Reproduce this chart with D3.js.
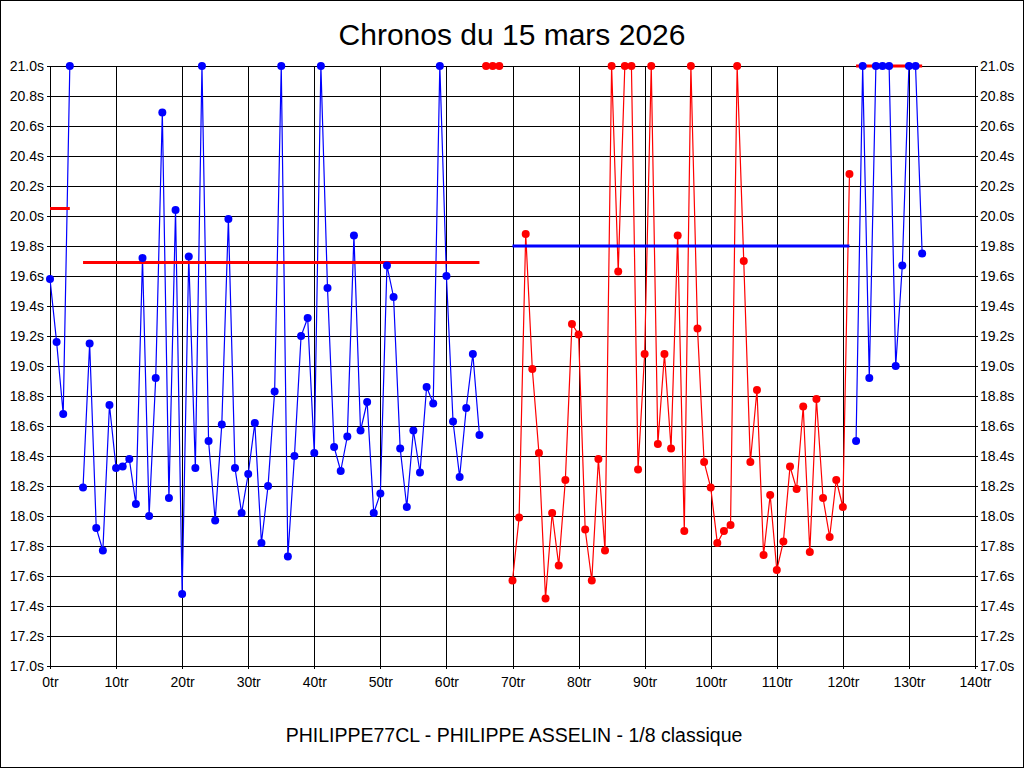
<!DOCTYPE html>
<html><head><meta charset="utf-8">
<script src="https://cdn.jsdelivr.net/npm/d3@7"></script>
<style>
html,body{margin:0;padding:0;background:#fff;}
svg{display:block;font-family:"Liberation Sans",Arial,sans-serif;}
</style></head>
<body><svg id="chart" width="1024" height="768"></svg>
<script>
// ---- data ----
const title = "Chronos du 15 mars 2026";
const footer = "PHILIPPE77CL - PHILIPPE ASSELIN - 1/8 classique";
const xTicks = [0,10,20,30,40,50,60,70,80,90,100,110,120,130,140];
const yTicks = [17.0,17.2,17.4,17.6,17.8,18.0,18.2,18.4,18.6,18.8,19.0,19.2,19.4,19.6,19.8,20.0,20.2,20.4,20.6,20.8,21.0];

const stintStart = [0, 5, 66, 70, 122];
const stintColor = ["#0000ff", "#0000ff", "#ff0000", "#ff0000", "#0000ff"];
const stint1 = [19.58, 19.16, 18.68, 21.0];
const stint2 = [18.19, 19.15, 17.92, 17.77, 18.74, 18.32, 18.33, 18.38, 18.08, 19.72,
                18.00, 18.92, 20.69, 18.12, 20.04, 17.48, 19.73, 18.32, 21.0, 18.50,
                17.97, 18.61, 19.98, 18.32, 18.02, 18.28, 18.62, 17.82, 18.20, 18.83,
                21.0, 17.73, 18.40, 19.20, 19.32, 18.42, 21.0, 19.52, 18.46, 18.30,
                18.53, 19.87, 18.57, 18.76, 18.02, 18.15, 19.67, 19.46, 18.45, 18.06,
                18.57, 18.29, 18.86, 18.75, 21.0, 19.60, 18.63, 18.26, 18.72, 19.08, 18.54];
const stint3 = [21.0, 21.0, 21.0];
const stint4 = [17.57, 17.99, 19.88, 18.98, 18.42, 17.45, 18.02, 17.67, 18.24, 19.28,
                19.21, 17.91, 17.57, 18.38, 17.77, 21.0, 19.63, 21.0, 21.0, 18.31,
                19.08, 21.0, 18.48, 19.08, 18.45, 19.87, 17.90, 21.0, 19.25, 18.36,
                18.19, 17.82, 17.90, 17.94, 21.0, 19.70, 18.36, 18.84, 17.74, 18.14,
                17.64, 17.83, 18.33, 18.18, 18.73, 17.76, 18.78, 18.12, 17.86, 18.24,
                18.06, 20.28];
const stint5 = [18.50, 21.0, 18.92, 21.0, 21.0, 21.0, 19.00, 19.67, 21.0, 21.0, 19.75];
const stints = [stint1, stint2, stint3, stint4, stint5];

const avgStart = [0, 5, 66, 70, 122];
const avgEnd   = [3, 65, 68, 121, 132];
const avgValue = [20.05, 19.69, 21.0, 19.80, 21.0];
const avgColor = ["#ff0000", "#ff0000", "#0000ff", "#0000ff", "#ff0000"];

// ---- drawing ----
const W = 1024, H = 768;
const L = 50, R = 975, T = 66, B = 666;
const svg = d3.select("#chart");
const x = d3.scaleLinear().domain([0,140]).range([L,R]);
const y = d3.scaleLinear().domain([17,21]).range([B,T]);

svg.append("rect").attr("x",0.5).attr("y",0.5).attr("width",W-1).attr("height",H-1)
  .attr("fill","#fff").attr("stroke","#000");

// grid
const g = svg.append("g").attr("shape-rendering","crispEdges");
g.selectAll(".hg").data(yTicks).join("line")
  .attr("x1",L).attr("x2",R).attr("y1",d=>Math.round(y(d))+0.5).attr("y2",d=>Math.round(y(d))+0.5)
  .attr("stroke","#000");
g.selectAll(".vg").data(xTicks).join("line")
  .attr("y1",T).attr("y2",B).attr("x1",d=>Math.round(x(d))+0.5).attr("x2",d=>Math.round(x(d))+0.5)
  .attr("stroke","#000");

// axes labels
const fmtY = d => d3.format(".1f")(d) + "s";
const axL = d3.axisLeft(y).tickValues(yTicks).tickFormat(fmtY).tickSize(3).tickPadding(3);
const axR = d3.axisRight(y).tickValues(yTicks).tickFormat(fmtY).tickSize(3).tickPadding(2);
const axB = d3.axisBottom(x).tickValues(xTicks).tickFormat(d=>d+"tr").tickSize(3).tickPadding(8);
function styleAxis(sel){
  sel.select(".domain").remove();
  sel.selectAll("line").attr("stroke","#000").attr("shape-rendering","crispEdges");
  sel.selectAll("text").attr("fill","#000").style("font-size","14px")
     .style("font-family","'Liberation Sans',Arial,sans-serif");
}
svg.append("g").attr("transform",`translate(${L},0)`).call(axL).call(styleAxis);
svg.append("g").attr("transform",`translate(${R},0)`).call(axR).call(styleAxis);
svg.append("g").attr("transform",`translate(0,${B})`).call(axB).call(styleAxis);

// series lines
const line = d3.line().x(d=>x(d.lap)).y(d=>y(d.t));
const series = stints.map((arr,i)=>arr.map((t,j)=>({lap: stintStart[i]+j, t: t})));
svg.append("g").selectAll("path").data(series).join("path")
  .attr("d", line).attr("fill","none")
  .attr("stroke",(d,i)=>stintColor[i]).attr("stroke-width",1.2);

// average lines
svg.append("g").selectAll("line").data(avgValue).join("line")
  .attr("x1",(d,i)=>x(avgStart[i])).attr("x2",(d,i)=>x(avgEnd[i]))
  .attr("y1",d=>y(d)).attr("y2",d=>y(d))
  .attr("stroke",(d,i)=>avgColor[i]).attr("stroke-width",3);

// dots
series.forEach((s,i)=>{
  svg.append("g").selectAll("circle").data(s).join("circle")
    .attr("cx",d=>x(d.lap)).attr("cy",d=>y(d.t)).attr("r",4)
    .attr("fill",stintColor[i]);
});

// title & footer
svg.append("text").attr("x",512).attr("y",45).attr("text-anchor","middle")
  .style("font-size","30px").attr("fill","#000").text(title);
svg.append("text").attr("x",514).attr("y",742).attr("text-anchor","middle")
  .style("font-size","19.5px").attr("fill","#000").text(footer);
</script></body></html>
